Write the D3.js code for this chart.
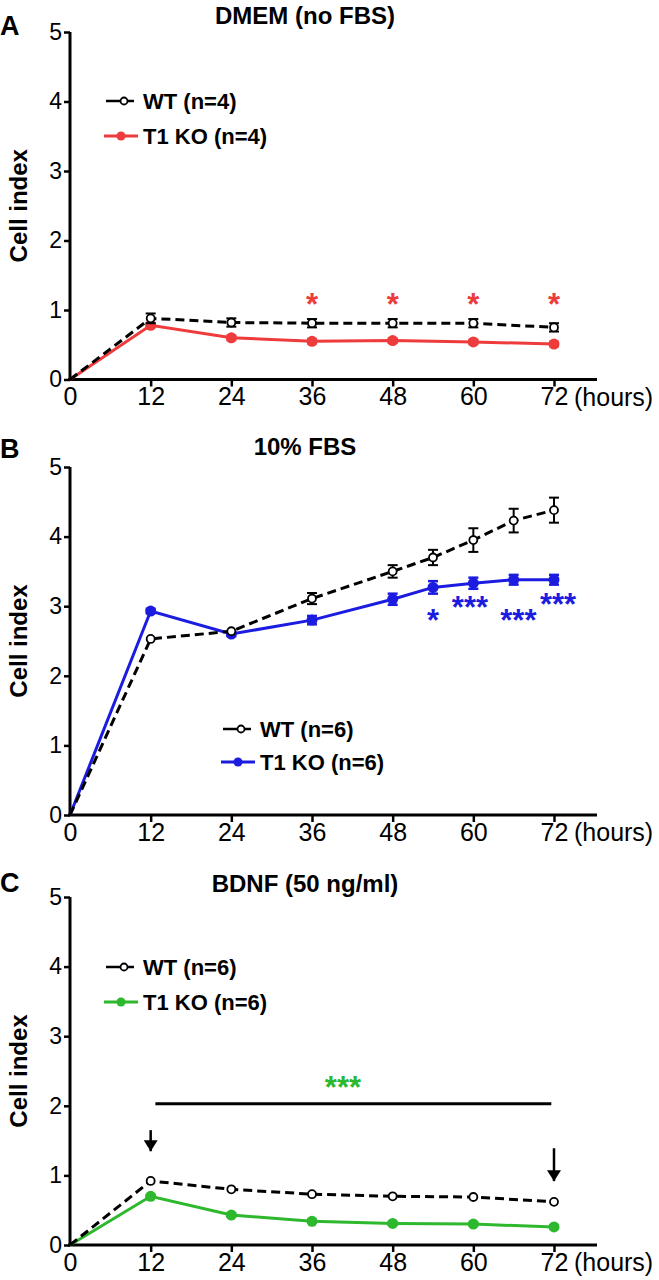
<!DOCTYPE html>
<html><head><meta charset="utf-8">
<script src="https://cdn.jsdelivr.net/npm/d3@7"></script>
<style>
html,body{margin:0;padding:0;background:#fff;}
svg{display:block;font-family:'Liberation Sans',Arial,sans-serif;}
</style></head>
<body><svg id="c" width="659" height="1280"></svg>
<script>
// ---- data ----
const xTicks = [0,12,24,36,48,60,72];
const yTicks = [0,1,2,3,4,5];

const hoursA = [0,12,24,36,48,60,72];
const wtA    = [0,0.88,0.82,0.81,0.81,0.81,0.75];
const wtErrA = [0,0.07,0.06,0.06,0.06,0.06,0.06];
const koA    = [0,0.78,0.60,0.55,0.56,0.54,0.51];
const koErrA = [0,0.03,0.03,0.03,0.03,0.03,0.03];
const starsA = [{h:36,v:1.13,t:"*"},{h:48,v:1.13,t:"*"},{h:60,v:1.13,t:"*"},{h:72,v:1.13,t:"*"}];

const hoursB = [0,12,24,36,48,54,60,66,72];
const wtB    = [0,2.53,2.64,3.11,3.50,3.70,3.95,4.23,4.38];
const wtErrB = [0,0.03,0.03,0.08,0.09,0.11,0.17,0.17,0.18];
const koB    = [0,2.93,2.60,2.80,3.10,3.27,3.33,3.38,3.38];
const koErrB = [0,0.03,0.03,0.06,0.08,0.09,0.08,0.07,0.07];
const starsB = [{h:54,v:2.84,t:"*"},{h:59.5,v:3.03,t:"***"},{h:66.7,v:2.84,t:"***"},{h:72.6,v:3.08,t:"***"}];

const hoursC = [0,12,24,36,48,60,72];
const wtC    = [0,0.92,0.80,0.73,0.70,0.69,0.62];
const wtErrC = [0,0.02,0.02,0.02,0.02,0.02,0.02];
const koC    = [0,0.70,0.43,0.34,0.31,0.30,0.26];
const koErrC = [0,0.02,0.02,0.02,0.02,0.02,0.02];
const starsC = [{h:40.6,v:2.32,t:"***"}];
const sigLineC = {h0:12.7,h1:71.6,v:2.03};
const arrowsC = [{h:12,v0:1.65,v1:1.29},{h:72,v0:1.39,v1:0.86}];

const panels = [
  {letter:"A",title:"DMEM (no FBS)",top:32,bottom:379.5,letterY:35,titleY:24,
   hours:hoursA,wt:wtA,wtErr:wtErrA,ko:koA,koErr:koErrA,color:"#ee3b3b",stars:starsA,
   legend:{x:106,y1:101,y2:136,wt:"WT (n=4)",ko:"T1 KO (n=4)"}},
  {letter:"B",title:"10% FBS",top:467,bottom:815,letterY:458,titleY:455,
   hours:hoursB,wt:wtB,wtErr:wtErrB,ko:koB,koErr:koErrB,color:"#1c1ce0",stars:starsB,
   legend:{x:223,y1:729,y2:762,wt:"WT (n=6)",ko:"T1 KO (n=6)"}},
  {letter:"C",title:"BDNF (50 ng/ml)",top:897,bottom:1245,letterY:892,titleY:892,
   hours:hoursC,wt:wtC,wtErr:wtErrC,ko:koC,koErr:koErrC,color:"#2db82d",stars:starsC,
   legend:{x:106,y1:967,y2:1002,wt:"WT (n=6)",ko:"T1 KO (n=6)"},
   sig:sigLineC,arrows:arrowsC}
];

const svg = d3.select("#c");
const defs = svg.append("defs");
defs.append("marker").attr("id","arr").attr("viewBox","0 0 14 18").attr("refX",14).attr("refY",9)
  .attr("markerWidth",18).attr("markerHeight",14).attr("markerUnits","userSpaceOnUse").attr("orient","auto")
  .append("path").attr("d","M0,0 L14,9 L0,18 z").attr("fill","#000");

const x = d3.scaleLinear().domain([0,72]).range([70,554]);

panels.forEach(p=>{
  const y = d3.scaleLinear().domain([0,5]).range([p.bottom,p.top]);
  const g = svg.append("g");

  // panel letter & title
  g.append("text").attr("x",0).attr("y",p.letterY).attr("font-size",27).attr("font-weight","bold").text(p.letter);
  g.append("text").attr("x",305).attr("y",p.titleY).attr("text-anchor","middle").attr("font-size",24).attr("font-weight","bold").text(p.title);

  // y label
  g.append("text").attr("transform",`translate(27,${(p.top+p.bottom)/2}) rotate(-90)`)
    .attr("text-anchor","middle").attr("font-size",24).attr("font-weight","bold").text("Cell index");

  // axes
  const yAxis = d3.axisLeft(y).tickValues(yTicks).tickSize(6).tickPadding(2).tickFormat(d3.format("d"));
  const ya = g.append("g").attr("transform","translate(70,0)").call(yAxis);
  ya.select(".domain").attr("stroke","#000").attr("stroke-width",3).attr("d",`M0,${p.bottom}V${p.top}`);
  ya.selectAll(".tick line").attr("stroke-width",2.5);
  ya.selectAll(".tick text").attr("font-size",23).attr("font-family","'Liberation Sans',Arial,sans-serif").attr("fill","#000");

  const xAxis = d3.axisBottom(x).tickValues(xTicks).tickSize(7).tickPadding(1).tickFormat(d3.format("d"));
  const xa = g.append("g").attr("transform",`translate(0,${p.bottom})`).call(xAxis);
  xa.select(".domain").attr("stroke-width",3).attr("d","M68,0H597");
  xa.selectAll(".tick line").attr("stroke-width",2.5);
  xa.selectAll(".tick text").attr("font-size",25).attr("font-family","'Liberation Sans',Arial,sans-serif").attr("fill","#000");
  xa.selectAll(".tick").filter(d=>d===0).select("line").remove();
  g.append("text").attr("x",574).attr("y",p.bottom+26).attr("font-size",25).text("(hours)");

  const wtPts = p.hours.map((h,i)=>({h,v:p.wt[i],e:p.wtErr[i]}));
  const koPts = p.hours.map((h,i)=>({h,v:p.ko[i],e:p.koErr[i]}));
  const line = d3.line().x(d=>x(d.h)).y(d=>y(d.v));

  // KO series
  g.append("path").datum(koPts).attr("d",line).attr("fill","none").attr("stroke",p.color).attr("stroke-width",3);
  const kb = g.append("g").selectAll("g").data(koPts.filter(d=>d.h>0)).join("g");
  kb.append("line").attr("x1",d=>x(d.h)).attr("x2",d=>x(d.h)).attr("y1",d=>y(d.v+d.e)).attr("y2",d=>y(d.v-d.e)).attr("stroke",p.color).attr("stroke-width",2.5);
  kb.append("line").attr("x1",d=>x(d.h)-5).attr("x2",d=>x(d.h)+5).attr("y1",d=>y(d.v+d.e)).attr("y2",d=>y(d.v+d.e)).attr("stroke",p.color).attr("stroke-width",2.5);
  kb.append("line").attr("x1",d=>x(d.h)-5).attr("x2",d=>x(d.h)+5).attr("y1",d=>y(d.v-d.e)).attr("y2",d=>y(d.v-d.e)).attr("stroke",p.color).attr("stroke-width",2.5);
  kb.append("circle").attr("cx",d=>x(d.h)).attr("cy",d=>y(d.v)).attr("r",5.5).attr("fill",p.color);

  // WT series
  g.append("path").datum(wtPts).attr("d",line).attr("fill","none").attr("stroke","#000").attr("stroke-width",3).attr("stroke-dasharray","9,5");
  const wb = g.append("g").selectAll("g").data(wtPts.filter(d=>d.h>0)).join("g");
  wb.append("line").attr("x1",d=>x(d.h)).attr("x2",d=>x(d.h)).attr("y1",d=>y(d.v+d.e)).attr("y2",d=>y(d.v-d.e)).attr("stroke","#000").attr("stroke-width",2);
  wb.filter(d=>d.e>0.04).append("line").attr("x1",d=>x(d.h)-5).attr("x2",d=>x(d.h)+5).attr("y1",d=>y(d.v+d.e)).attr("y2",d=>y(d.v+d.e)).attr("stroke","#000").attr("stroke-width",2);
  wb.filter(d=>d.e>0.04).append("line").attr("x1",d=>x(d.h)-5).attr("x2",d=>x(d.h)+5).attr("y1",d=>y(d.v-d.e)).attr("y2",d=>y(d.v-d.e)).attr("stroke","#000").attr("stroke-width",2);
  wb.append("circle").attr("cx",d=>x(d.h)).attr("cy",d=>y(d.v)).attr("r",4).attr("fill","#fff").attr("stroke","#000").attr("stroke-width",1.8);

  // stars
  g.selectAll("text.star").data(p.stars).join("text").attr("class","star")
    .attr("x",d=>x(d.h)).attr("y",d=>y(d.v)+14).attr("text-anchor","middle")
    .attr("font-size",31).attr("font-weight","bold").attr("fill",p.color).text(d=>d.t);

  // legend
  const L = p.legend;
  g.append("line").attr("x1",L.x).attr("x2",L.x+28).attr("y1",L.y1).attr("y2",L.y1).attr("stroke","#000").attr("stroke-width",2.5);
  g.append("circle").attr("cx",L.x+18).attr("cy",L.y1).attr("r",3.5).attr("fill","#fff").attr("stroke","#000").attr("stroke-width",1.8);
  g.append("text").attr("x",L.x+37).attr("y",L.y1+8).attr("font-size",22).attr("font-weight","bold").text(L.wt);
  g.append("line").attr("x1",L.x-2).attr("x2",L.x+32).attr("y1",L.y2).attr("y2",L.y2).attr("stroke",p.color).attr("stroke-width",3);
  g.append("circle").attr("cx",L.x+15).attr("cy",L.y2).attr("r",4.5).attr("fill",p.color);
  g.append("text").attr("x",L.x+37).attr("y",L.y2+8).attr("font-size",22).attr("font-weight","bold").text(L.ko);

  if(p.sig){
    g.append("line").attr("x1",x(p.sig.h0)).attr("x2",x(p.sig.h1)).attr("y1",y(p.sig.v)).attr("y2",y(p.sig.v)).attr("stroke","#000").attr("stroke-width",3);
  }
  if(p.arrows){
    g.selectAll("line.arrow").data(p.arrows).join("line").attr("class","arrow")
      .attr("x1",d=>x(d.h)).attr("x2",d=>x(d.h)).attr("y1",d=>y(d.v0)).attr("y2",d=>y(d.v1)-4)
      .attr("stroke","#000").attr("stroke-width",2.5).attr("marker-end","url(#arr)");
  }
});
</script></body></html>
